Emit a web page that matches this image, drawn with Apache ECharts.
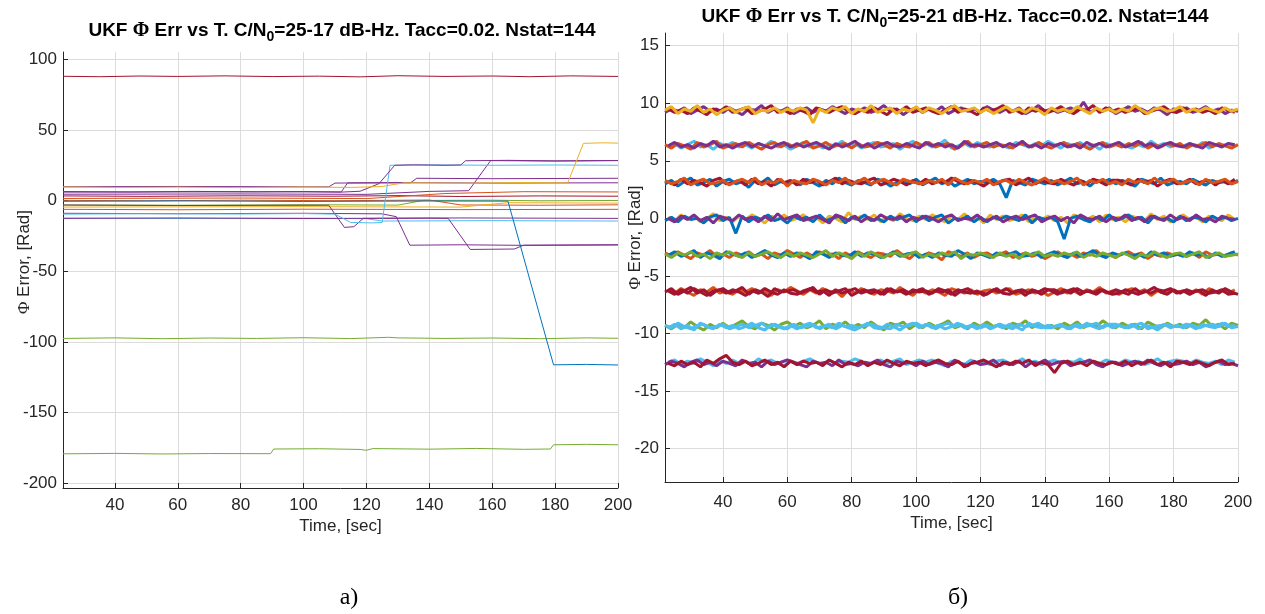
<!DOCTYPE html>
<html><head><meta charset="utf-8">
<script src="https://cdn.jsdelivr.net/npm/echarts@6/dist/echarts.min.js"></script>
<style>html,body{margin:0;padding:0;background:#fff}#c{width:1265px;height:614px}</style>
</head><body><div id="c"></div>
<script>
// ---------- tick labels ----------
const xTicks = [40,60,80,100,120,140,160,180,200];
const yTicksL = [-200,-150,-100,-50,0,50,100];
const yTicksR = [-20,-15,-10,-5,0,5,10,15];

// ---------- panel a) : [time, phase error] ----------
const La_87 = [[23.5,88.0],[35,87.7],[48,88.2],[60,87.9],[75,88.3],[90,87.8],[105,88.1],[118,87.6],[130,88.4],[145,87.9],[160,88.2],[172,87.7],[185,88.3],[200,87.9]];
const La_m97 = [[23.5,-97.6],[40,-97.2],[55,-97.8],[70,-97.3],[85,-97.6],[100,-97.1],[115,-97.7],[127,-96.8],[130,-97.2],[145,-97.6],[160,-97.3],[175,-97.8],[190,-97.2],[200,-97.5]];
const La_m179 = [[23.5,-179.3],[40,-179.0],[55,-179.4],[70,-179.1],[89.5,-179.2],[90.5,-175.9],[105,-175.7],[118,-176.2],[120,-176.8],[122,-175.6],[140,-176.0],[155,-175.5],[170,-176.1],[178.5,-175.9],[179.5,-172.9],[190,-172.6],[200,-172.9]];
const La_yel = [[23.5,9.6],[40,9.3],[60,9.5],[80,9.2],[100,9.6],[115,9.3],[125,10.0],[132,12.6],[150,12.3],[170,12.8],[184,12.5],[189,40.5],[195,40.9],[200,40.7]];
const La_pur1 = [[23.5,6.4],[45,6.1],[65,6.5],[85,6.2],[100,6.4],[112,6.0],[118,6.6],[124,12],[129,25.0],[135,25.3],[145,25.0],[150,25.2],[151.5,28.2],[165,28.5],[180,28.1],[200,28.4]];
const La_cya1 = [[23.5,-9.6],[50,-9.3],[80,-9.5],[100,-9.2],[110,-9.6],[115,-15.5],[122,-15.8],[125,-15.5],[127.5,25.0],[140,25.3],[160,25.0],[180,25.2],[200,25.0]];
const La_cya2 = [[23.5,-12.4],[60,-12.7],[100,-12.4],[120,-12.8],[125,-14.5],[160,-14.2],[200,-14.5]];
const La_red = [[23.5,3.3],[50,3.0],[80,3.4],[110,3.1],[130,3.5],[150,2.9],[175,3.3],[200,3.1]];
const La_ora1 = [[23.5,0.2],[50,-0.2],[80,0.3],[110,-0.1],[140,0.4],[150,-3.1],[175,-3.3],[200,-3.0]];
const La_grn = [[23.5,-3.0],[60,-3.3],[100,-2.9],[130,-3.2],[138,0.1],[160,0.3],[175,-0.2],[200,0.1]];
const La_ora2 = [[23.5,-6.2],[60,-6.5],[100,-6.1],[150,-6.4],[200,-6.2]];
const La_pur2 = [[23.5,-12.6],[60,-12.3],[100,-12.7],[140,-12.4],[146,-12.6],[153,-34.6],[167,-34.3],[170,-31.6],[200,-31.3]];
const La_blu1 = [[23.5,-0.5],[60,-0.2],[100,-0.6],[140,-0.3],[165,-0.4],[179.5,-116.3],[190,-116.0],[200,-116.4]];
const La_pur3 = [[23.5,9.8],[60,10.0],[108,9.7],[110,12.4],[130,12.7],[160,12.4],[200,12.6]];
const La_pur4 = [[23.5,6.0],[90,6.2],[112,6.1],[114,12.5],[134,12.6],[136,15.8],[160,15.5],[200,15.8]];
const La_pur5 = [[23.5,-3.2],[60,-3.5],[108,-3.3],[113,-19.0],[116,-18.5],[119,-12.6],[150,-12.3],[200,-12.6]];
const La_pur6 = [[23.5,-9.0],[60,-9.3],[100,-9.0],[125,-9.4],[129.5,-11.4],[133.8,-31.6],[150,-31.3],[170,-31.7],[200,-31.4]];
const La_pur7 = [[23.5,4.5],[80,4.7],[120,4.4],[140,6.5],[152.5,7.0],[159.5,28.3],[180,28.0],[200,28.3]];
const La_ora3 = [[23.5,1.5],[80,1.8],[120,1.4],[145,5.0],[170,6.3],[200,6.1]];
const La_yel2 = [[23.5,-4.6],[100,-4.3],[150,-4.6],[165,-1.5],[200,-1.8]];

// ---------- panel б) : time samples and phase error bands ----------
const R_t = [22,24,26,28,30,32,34,36,38,40,42,44,46,48,50,52,54,56,58,60,62,64,66,68,70,72,74,76,78,80,82,84,86,88,90,92,94,96,98,100,102,104,106,108,110,112,114,116,118,120,122,124,126,128,130,132,134,136,138,140,142,144,146,148,150,152,154,156,158,160,162,164,166,168,170,172,174,176,178,180,182,184,186,188,190,192,194,196,198,200];
const R_t2 = [23,25,27,29,31,33,35,37,39,41,43,45,47,49,51,53,55,57,59,61,63,65,67,69,71,73,75,77,79,81,83,85,87,89,91,93,95,97,99,101,103,105,107,109,111,113,115,117,119,121,123,125,127,129,131,133,135,137,139,141,143,145,147,149,151,153,155,157,159,161,163,165,167,169,171,173,175,177,179,181,183,185,187,189,191,193,195,197,199];

const B1a = [9.2,9.5,9.3,9.6,9.1,9.4,9.7,9.3,9.5,9.2,
9.6,9.3,9.0,9.5,9.4,9.8,9.2,9.5,9.3,9.6,
9.1,9.4,9.6,9.2,9.5,9.3,9.7,9.4,9.1,9.5,
9.3,9.6,9.2,9.4,9.8,9.3,9.5,9.0,9.4,9.6,
9.2,9.5,9.3,9.7,9.1,9.4,9.6,9.3,9.5,9.2,
9.7,9.4,9.2,9.5,9.3,9.6,9.1,9.4,9.8,9.3,
9.5,9.2,9.4,9.6,9.3,10.1,9.2,9.5,9.3,9.6,
9.1,9.4,9.7,9.3,9.5,9.2,9.6,9.4,9.0,9.5,
9.3,9.6,9.2,9.4,9.7,9.3,9.5,9.1,9.4,9.3];
const B1b = [9.5,9.2,9.4,9.1,9.6,9.3,9.0,9.5,9.3,9.7,
9.2,9.4,9.6,9.1,9.3,9.5,9.8,9.2,9.4,9.1,
9.5,9.3,9.0,9.6,9.4,9.2,9.5,9.7,9.3,9.1,
9.4,9.2,9.6,9.3,9.0,9.5,9.3,9.7,9.2,9.4,
9.6,9.3,9.1,9.4,9.7,9.2,9.5,9.3,9.0,9.6,
9.3,9.5,9.8,9.2,9.4,9.1,9.6,9.3,9.5,9.2,
9.4,9.7,9.3,9.1,9.5,9.4,9.8,9.2,9.6,9.3,
9.5,9.2,9.4,9.6,9.1,9.3,9.5,9.7,9.3,9.2,
9.6,9.3,9.5,9.2,9.4,9.1,9.6,9.4,9.2,9.5];
const B1c = [9.4,9.7,9.1,9.5,9.3,9.8,9.2,9.5,9.0,9.4,
9.6,9.2,9.5,9.7,9.1,9.4,9.3,9.6,9.2,9.5,
9.3,9.6,9.4,8.3,9.5,9.2,9.6,9.4,9.7,9.1,
9.5,9.3,9.8,9.2,9.4,9.6,9.1,9.5,9.3,9.7,
9.2,9.6,9.4,9.1,9.5,9.8,9.3,9.4,9.6,9.2,
9.5,9.1,9.4,9.7,9.3,9.5,9.2,9.6,9.4,9.0,
9.6,9.3,9.5,9.2,9.7,9.4,9.1,9.6,9.3,9.5,
9.2,9.5,9.3,9.8,9.4,9.1,9.5,9.6,9.3,9.4,
9.7,9.2,9.5,9.3,9.6,9.4,9.2,9.6,9.3,9.5];

const B2a = [6.2,6.5,6.1,6.4,6.7,6.2,6.4,6.0,6.5,6.3,
6.6,6.2,6.4,6.1,6.5,6.3,6.7,6.2,6.4,6.0,
6.3,6.6,6.2,6.5,6.1,6.4,6.3,6.7,6.2,6.5,
6.1,6.4,6.6,6.2,6.3,6.5,6.0,6.4,6.7,6.2,
6.5,6.2,6.4,6.8,6.1,6.3,6.5,6.2,6.6,6.3,
6.2,6.5,6.3,6.1,6.6,6.4,6.2,6.5,6.3,6.7,
6.4,6.1,6.5,6.3,6.6,6.2,6.4,6.0,6.5,6.3,
6.6,6.3,6.1,6.4,6.2,6.7,6.3,6.5,6.2,6.4,
6.3,6.5,6.2,6.6,6.1,6.4,6.3,6.5,6.2,6.4];
const B2b = [6.4,6.1,6.5,6.3,6.0,6.6,6.2,6.4,6.7,6.1,
6.3,6.5,6.2,6.6,6.3,6.0,6.4,6.6,6.2,6.5,
6.2,6.4,6.7,6.1,6.3,6.6,6.2,6.4,6.5,6.1,
6.5,6.2,6.3,6.6,6.4,6.1,6.5,6.3,6.2,6.6,
6.3,6.6,6.2,6.4,6.5,6.0,6.3,6.7,6.2,6.4,
6.6,6.2,6.4,6.3,6.1,6.5,6.4,6.2,6.6,6.3,
6.1,6.4,6.6,6.2,6.5,6.3,6.0,6.4,6.6,6.2,
6.4,6.2,6.5,6.3,6.6,6.1,6.4,6.2,6.5,6.3,
6.5,6.1,6.4,6.3,6.6,6.2,6.5,6.3,6.1,6.4];
const B2c = [6.3,6.6,6.2,6.4,6.1,6.5,6.3,6.7,6.2,6.4,
6.1,6.4,6.6,6.2,6.5,6.3,6.1,6.4,6.6,6.2,
6.5,6.2,6.4,6.6,6.3,6.0,6.5,6.2,6.4,6.7,
6.2,6.5,6.1,6.4,6.6,6.3,6.2,6.5,6.3,6.1,
6.6,6.3,6.5,6.2,6.4,6.1,6.7,6.3,6.4,6.2,
6.4,6.6,6.2,6.5,6.3,6.7,6.2,6.4,6.1,6.5,
6.3,6.5,6.2,6.4,6.1,6.6,6.3,6.5,6.2,6.4,
6.6,6.2,6.4,6.7,6.3,6.5,6.1,6.4,6.6,6.3,
6.2,6.5,6.3,6.1,6.6,6.4,6.2,6.5,6.4,6.3];

const B3a = [3.0,3.3,2.8,3.2,3.5,2.9,3.1,3.4,2.8,3.2,
3.4,3.0,3.2,2.7,3.3,3.1,3.5,2.9,3.2,3.0,
3.2,2.9,3.4,3.1,2.8,3.3,3.0,3.5,3.1,2.9,
3.3,3.1,2.9,3.4,3.2,2.8,3.1,3.3,3.0,3.4,
2.9,3.2,3.5,3.0,3.3,2.8,3.1,3.4,3.0,3.2,
3.1,3.4,3.0,1.8,3.3,3.1,2.9,3.4,3.2,3.0,
3.3,2.9,3.2,3.5,3.0,3.2,2.8,3.3,3.1,3.4,
3.0,3.3,3.1,2.8,3.4,3.2,3.0,3.5,2.9,3.1,
3.2,3.0,3.4,3.1,2.9,3.3,3.1,3.2,3.0,3.3];
const B3b = [3.2,2.9,3.4,3.0,3.3,3.1,2.8,3.3,3.5,3.0,
3.1,3.3,2.9,3.4,3.0,3.2,2.8,3.4,3.1,3.3,
2.9,3.4,3.1,3.3,2.9,3.2,3.5,3.0,3.3,3.1,
3.0,3.3,3.5,2.9,3.1,3.4,3.2,2.9,3.3,3.0,
3.4,3.0,3.2,3.1,3.5,3.2,3.0,3.3,3.1,2.8,
3.2,3.0,3.3,3.4,2.9,3.2,3.5,3.0,3.3,3.1,
3.0,3.4,3.1,2.9,3.3,3.0,3.4,3.2,2.9,3.3,
3.3,3.1,2.9,3.4,3.1,3.3,2.8,3.2,3.4,3.0,
3.1,3.4,3.0,3.2,3.3,2.9,3.3,3.0,3.4,3.1];
const B3c = [3.3,3.0,3.2,3.5,2.9,3.2,3.4,3.0,3.1,3.3,
2.9,3.2,3.4,3.1,3.5,2.9,3.2,3.1,3.4,2.8,
3.3,3.1,3.0,3.4,3.2,2.9,3.3,3.1,3.5,3.0,
3.2,3.5,3.0,3.2,3.4,3.1,2.9,3.4,3.2,3.1,
3.0,3.3,3.1,3.4,2.9,3.5,3.2,3.0,3.3,3.1,
3.4,2.9,3.2,3.3,3.0,3.4,3.1,2.9,3.2,3.5,
3.1,3.3,3.0,3.2,3.5,2.9,3.3,3.1,3.4,3.0,
3.2,2.9,3.4,3.1,3.3,3.0,3.5,3.1,3.2,3.4,
3.0,3.2,3.3,2.9,3.4,3.1,3.2,3.4,3.0,3.2];

const B4a = [0.1,-0.2,0.3,-0.1,0.2,-0.3,0.0,0.4,-0.2,0.1,
-0.3,0.2,-0.1,0.3,0.0,-0.4,0.2,-0.1,0.3,-0.2,
0.0,0.3,-0.2,0.1,-0.4,0.2,0.0,-0.3,0.5,-0.1,
0.2,-0.1,0.3,-0.3,0.1,-0.2,0.4,0.0,-0.2,0.2,
-0.1,0.3,0.0,-0.3,0.2,-0.1,0.4,-0.2,0.1,-0.4,
0.3,-0.1,0.2,-0.2,0.0,0.3,-0.3,0.1,-0.1,0.2,
-0.2,0.1,-0.4,0.3,0.0,-0.1,0.2,-0.3,0.3,-0.1,
0.1,-0.3,0.2,0.0,-0.2,0.4,-0.1,0.2,-0.3,0.0,
0.3,-0.1,0.1,-0.3,0.2,0.0,-0.2,0.3,-0.1,0.1];
const B4b = [-0.2,0.1,-0.3,0.2,-0.1,0.0,-0.4,0.1,0.3,-0.2,
0.1,-1.3,0.2,-0.3,0.1,-0.1,0.3,-0.2,0.0,-0.4,
0.2,-0.1,0.1,-0.3,0.3,-0.2,0.0,0.2,-0.4,0.1,
-0.1,0.3,-0.2,0.0,-0.3,0.2,-0.1,0.1,0.3,-0.3,
0.2,-0.2,0.1,0.3,-0.4,0.0,-0.1,0.2,-0.3,0.1,
-0.3,0.1,-0.1,0.2,0.0,-0.2,0.3,-0.4,0.1,-0.1,
0.1,-0.3,-1.8,0.0,0.2,-0.1,-0.3,0.1,-0.2,0.3,
-0.2,0.0,0.3,-0.1,0.1,-0.4,0.2,-0.1,0.0,-0.3,
0.2,-0.2,0.1,0.0,-0.3,0.2,-0.1,0.1,-0.2,0.0];
const B4c = [0.0,-0.3,0.2,-0.1,0.3,-0.2,0.1,-0.4,0.2,0.0,
-0.2,0.3,-0.1,0.1,-0.3,0.2,-0.2,0.4,-0.1,0.1,
0.3,-0.2,0.0,0.2,-0.1,-0.4,0.3,0.1,-0.2,0.2,
-0.3,0.1,-0.2,0.3,0.0,-0.1,0.2,-0.3,0.1,-0.1,
0.2,0.0,-0.3,0.1,0.3,-0.2,0.0,-0.1,0.3,-0.2,
-0.1,0.2,-0.3,0.0,0.2,-0.1,0.1,0.3,-0.3,0.0,
0.2,-0.2,0.1,-0.4,0.3,0.0,-0.1,0.2,-0.3,0.1,
-0.1,0.3,-0.2,0.1,-0.3,0.2,0.0,-0.2,0.3,-0.1,
0.1,-0.2,0.3,-0.1,0.0,-0.3,0.2,0.0,-0.1,0.2];

const B5a = [-3.0,-3.3,-2.9,-3.2,-3.5,-3.0,-3.2,-2.8,-3.3,-3.1,
-3.4,-3.0,-3.2,-2.9,-3.3,-3.1,-3.5,-3.0,-3.2,-2.8,
-3.1,-3.4,-3.0,-3.3,-2.9,-3.2,-3.1,-3.5,-3.0,-3.3,
-2.9,-3.2,-3.4,-3.0,-3.1,-3.3,-2.8,-3.2,-3.5,-3.0,
-3.3,-3.0,-3.2,-3.6,-2.9,-3.1,-3.3,-3.0,-3.4,-3.1,
-3.0,-3.3,-3.1,-2.9,-3.4,-3.2,-3.0,-3.3,-3.1,-3.5,
-3.2,-2.9,-3.3,-3.1,-3.4,-3.0,-3.2,-2.8,-3.3,-3.1,
-3.4,-3.1,-2.9,-3.2,-3.0,-3.5,-3.1,-3.3,-3.0,-3.2,
-3.1,-3.3,-3.0,-3.4,-2.9,-3.2,-3.1,-3.3,-3.0,-3.2];
const B5b = [-3.2,-2.9,-3.3,-3.1,-2.8,-3.4,-3.0,-3.2,-3.5,-2.9,
-3.1,-3.3,-3.0,-3.4,-3.1,-2.8,-3.2,-3.4,-3.0,-3.3,
-3.0,-3.2,-3.5,-2.9,-3.1,-3.4,-3.0,-3.2,-3.3,-2.9,
-3.3,-3.0,-3.1,-3.4,-3.2,-2.9,-3.3,-3.1,-3.0,-3.4,
-3.1,-3.4,-3.0,-3.2,-3.3,-2.8,-3.1,-3.5,-3.0,-3.2,
-3.4,-3.0,-3.2,-3.1,-2.9,-3.3,-3.2,-3.0,-3.4,-3.1,
-2.9,-3.2,-3.4,-3.0,-3.3,-3.1,-2.8,-3.2,-3.4,-3.0,
-3.2,-3.0,-3.3,-3.1,-3.4,-2.9,-3.2,-3.0,-3.3,-3.1,
-3.3,-2.9,-3.2,-3.1,-3.4,-3.0,-3.3,-3.1,-2.9,-3.2];
const B5c = [-3.1,-3.4,-3.0,-3.2,-2.9,-3.3,-3.1,-3.5,-3.0,-3.2,
-2.9,-3.2,-3.4,-3.0,-3.3,-3.1,-2.9,-3.2,-3.4,-3.0,
-3.3,-3.0,-3.2,-3.4,-3.1,-2.8,-3.3,-3.0,-3.2,-3.5,
-3.0,-3.3,-2.9,-3.2,-3.4,-3.1,-3.0,-3.3,-3.1,-2.9,
-3.4,-3.1,-3.3,-3.0,-3.2,-2.9,-3.5,-3.1,-3.2,-3.0,
-3.2,-3.4,-3.0,-3.3,-3.1,-3.5,-3.0,-3.2,-2.9,-3.3,
-3.1,-3.3,-3.0,-3.2,-2.9,-3.4,-3.1,-3.3,-3.0,-3.2,
-3.4,-3.0,-3.2,-3.5,-3.1,-3.3,-2.9,-3.2,-3.4,-3.1,
-3.0,-3.3,-3.1,-2.9,-3.4,-3.2,-3.0,-3.3,-3.2,-3.1];

const B6a = [-6.2,-6.5,-6.1,-6.4,-6.7,-6.2,-6.4,-6.0,-6.5,-6.3,
-6.6,-6.2,-6.4,-6.1,-6.5,-6.3,-6.7,-6.2,-6.4,-6.0,
-6.3,-6.6,-6.2,-6.5,-6.1,-6.4,-6.3,-6.8,-6.2,-6.5,
-6.1,-6.4,-6.6,-6.2,-6.3,-6.5,-6.0,-6.4,-6.7,-6.2,
-6.5,-6.2,-6.4,-6.7,-6.1,-6.3,-6.5,-6.2,-6.6,-6.3,
-6.2,-6.5,-6.3,-6.1,-6.6,-6.4,-6.2,-6.5,-6.3,-6.7,
-6.4,-6.1,-6.5,-6.3,-6.6,-6.2,-6.4,-6.0,-6.5,-6.3,
-6.6,-6.3,-6.1,-6.4,-6.2,-6.7,-6.3,-6.5,-6.2,-6.4,
-6.3,-6.5,-6.2,-6.6,-6.1,-6.4,-6.3,-6.5,-6.2,-6.6];
const B6b = [-6.4,-6.1,-6.6,-6.3,-6.0,-6.5,-6.2,-6.7,-6.3,-6.1,
-6.5,-6.3,-6.0,-6.6,-6.2,-6.4,-6.8,-6.1,-6.4,-6.3,
-6.2,-6.5,-6.3,-6.0,-6.6,-6.2,-6.5,-6.3,-6.1,-6.7,
-6.4,-6.2,-6.5,-6.3,-6.6,-6.1,-6.4,-6.2,-6.5,-6.3,
-6.1,-6.6,-6.3,-6.4,-6.2,-6.7,-6.3,-6.1,-6.5,-6.4,
-6.6,-6.2,-6.4,-6.1,-6.5,-6.3,-6.7,-6.2,-6.4,-6.1,
-6.3,-6.6,-6.2,-6.5,-6.1,-6.4,-6.3,-6.6,-6.2,-6.5,
-6.2,-6.4,-6.6,-6.1,-6.5,-6.3,-6.0,-6.4,-6.6,-6.2,
-6.5,-6.2,-6.4,-6.3,-6.7,-6.2,-6.5,-6.1,-6.4,-6.6];
const B6c = [-6.3,-6.6,-6.2,-6.5,-6.1,-6.4,-6.7,-6.3,-6.2,-6.5,
-6.2,-6.4,-6.7,-6.3,-6.5,-6.1,-6.4,-6.6,-6.2,-6.5,
-6.6,-6.3,-6.1,-6.4,-6.3,-6.7,-6.2,-6.5,-6.3,-6.1,
-6.5,-6.3,-6.2,-6.6,-6.1,-6.4,-6.3,-6.6,-6.2,-6.4,
-6.3,-6.5,-6.1,-6.3,-6.6,-6.2,-6.4,-6.5,-6.3,-6.7,
-6.4,-6.1,-6.5,-6.6,-6.3,-6.2,-6.5,-6.3,-6.6,-6.2,
-6.2,-6.5,-6.3,-6.1,-6.6,-6.3,-6.5,-6.2,-6.4,-6.6,
-6.5,-6.2,-6.4,-6.6,-6.3,-6.5,-6.2,-6.3,-6.1,-6.5,
-6.3,-6.6,-6.3,-6.2,-6.5,-6.4,-6.2,-6.6,-6.5,-6.7];

const B7a = [-9.3,-9.6,-9.2,-9.5,-9.0,-9.4,-9.7,-9.2,-9.5,-9.1,
-9.5,-9.2,-8.9,-9.4,-9.6,-9.1,-9.3,-9.7,-9.2,-9.0,
-9.4,-9.1,-9.5,-9.3,-8.9,-9.6,-9.2,-9.4,-9.0,-9.5,
-9.2,-9.5,-9.0,-9.4,-9.7,-9.1,-9.3,-9.0,-9.6,-9.2,
-9.5,-9.1,-9.4,-9.2,-8.9,-9.5,-9.3,-9.6,-9.1,-9.4,
-9.0,-9.4,-9.2,-9.6,-9.1,-9.3,-8.9,-9.5,-9.2,-9.4,
-9.3,-9.6,-9.1,-9.4,-9.0,-9.5,-9.2,-9.4,-8.9,-9.3,
-9.5,-9.1,-9.4,-9.2,-9.6,-9.0,-9.3,-9.5,-9.1,-9.4,
-9.2,-9.5,-9.1,-9.3,-8.8,-9.4,-9.2,-9.6,-9.1,-9.3];
const B7b = [-9.5,-9.2,-9.6,-9.3,-9.7,-9.1,-9.4,-9.6,-9.2,-9.5,
-9.3,-9.6,-9.4,-9.1,-9.5,-9.7,-9.2,-9.4,-9.6,-9.3,
-9.6,-9.3,-9.1,-9.5,-9.4,-9.2,-9.6,-9.3,-9.5,-9.7,
-9.4,-9.1,-9.5,-9.6,-9.2,-9.4,-9.7,-9.3,-9.1,-9.5,
-9.2,-9.5,-9.3,-9.6,-9.4,-9.1,-9.5,-9.3,-9.6,-9.2,
-9.6,-9.3,-9.5,-9.2,-9.4,-9.7,-9.1,-9.4,-9.5,-9.3,
-9.4,-9.2,-9.6,-9.3,-9.5,-9.1,-9.4,-9.6,-9.2,-9.5,
-9.3,-9.5,-9.2,-9.6,-9.3,-9.4,-9.7,-9.2,-9.5,-9.3,
-9.5,-9.3,-9.6,-9.2,-9.4,-9.5,-9.1,-9.4,-9.3,-9.6];
const B7c = [-9.3,-9.5,-9.1,-9.4,-9.6,-9.3,-9.2,-9.5,-9.4,-9.2,
-9.6,-9.4,-9.2,-9.5,-9.3,-9.1,-9.5,-9.2,-9.4,-9.6,
-9.2,-9.5,-9.4,-9.2,-9.6,-9.3,-9.5,-9.1,-9.4,-9.3,
-9.5,-9.3,-9.2,-9.4,-9.5,-9.6,-9.2,-9.4,-9.3,-9.1,
-9.4,-9.2,-9.6,-9.3,-9.1,-9.4,-9.2,-9.5,-9.3,-9.5,
-9.3,-9.5,-9.2,-9.4,-9.6,-9.2,-9.4,-9.3,-9.1,-9.5,
-9.5,-9.3,-9.4,-9.6,-9.2,-9.4,-9.3,-9.1,-9.5,-9.2,
-9.2,-9.4,-9.5,-9.3,-9.1,-9.6,-9.4,-9.3,-9.2,-9.4,
-9.4,-9.2,-9.3,-9.5,-9.3,-9.2,-9.4,-9.1,-9.5,-9.4];

const B8a = [-12.5,-12.3,-12.7,-12.4,-12.6,-12.2,-12.5,-12.8,-12.4,-12.6,
-12.3,-12.6,-12.4,-12.7,-12.2,-12.5,-12.3,-12.6,-12.8,-12.4,
-12.6,-12.4,-12.2,-12.5,-12.7,-12.3,-12.6,-12.4,-12.5,-12.2,
-12.4,-12.7,-12.5,-12.3,-12.6,-12.4,-12.2,-12.7,-12.5,-12.3,
-12.5,-12.3,-12.6,-12.8,-12.4,-12.5,-12.7,-12.3,-12.6,-12.4,
-12.7,-12.4,-12.3,-12.6,-12.5,-12.2,-12.6,-12.4,-12.7,-12.5,
-12.3,-12.6,-12.4,-12.5,-12.2,-12.7,-12.4,-12.6,-12.3,-12.5,
-12.6,-12.3,-12.5,-12.4,-12.7,-12.5,-12.2,-12.6,-12.4,-12.3,
-12.4,-12.6,-12.3,-12.5,-12.6,-12.4,-12.7,-12.3,-12.5,-12.4];
const B8b = [-12.7,-12.4,-12.6,-12.9,-12.5,-12.3,-12.7,-12.5,-12.8,-12.4,
-12.6,-12.8,-12.3,-12.6,-12.5,-12.9,-12.4,-12.7,-12.5,-12.3,
-12.5,-12.7,-12.9,-12.4,-12.6,-12.5,-12.8,-12.3,-12.7,-12.6,
-12.8,-12.5,-12.6,-12.3,-12.7,-12.9,-12.4,-12.6,-12.5,-12.8,
-12.4,-12.7,-12.5,-12.6,-12.9,-12.3,-12.6,-12.8,-12.4,-12.7,
-12.6,-12.3,-12.8,-12.5,-12.7,-12.4,-12.9,-12.5,-12.6,-12.3,
-12.7,-12.5,-12.4,-12.8,-12.6,-12.5,-12.3,-12.7,-12.9,-12.5,
-12.5,-12.8,-12.6,-12.4,-12.7,-12.3,-12.6,-12.8,-12.5,-12.7,
-12.6,-12.4,-12.7,-12.5,-12.9,-12.6,-12.4,-12.7,-12.6,-12.8];
const B8c = [-12.6,-12.8,-12.4,-12.7,-12.5,-12.9,-12.3,-12.6,-12.2,-11.9,
-12.5,-12.7,-12.4,-12.8,-12.6,-12.3,-12.7,-12.5,-12.9,-12.4,
-12.7,-12.4,-12.6,-12.5,-12.8,-12.3,-12.6,-12.9,-12.5,-12.7,
-12.4,-12.8,-12.5,-12.7,-12.3,-12.6,-12.8,-12.4,-12.6,-12.5,
-12.8,-12.5,-12.3,-12.6,-12.7,-12.4,-12.9,-12.6,-12.5,-12.3,
-12.6,-12.9,-12.5,-12.7,-12.4,-12.6,-12.3,-12.8,-12.5,-12.7,
-13.4,-12.6,-12.4,-12.7,-12.5,-12.8,-12.4,-12.6,-12.7,-12.5,
-12.7,-12.4,-12.8,-12.5,-12.6,-12.3,-12.7,-12.5,-12.9,-12.4,
-12.5,-12.7,-12.4,-12.6,-12.8,-12.5,-12.3,-12.7,-12.6,-12.5];

// ---------- colours (MATLAB default order) ----------
const C = {blue:'#0072BD', ora:'#D95319', yel:'#EDB120', pur:'#7E2F8E', grn:'#77AC30', cya:'#4DBEEE', red:'#A2142F'};

const leftSeries = [
  [La_87, C.red], [La_m97, C.grn], [La_m179, C.grn],
  [La_ora2, C.ora], [La_grn, C.grn], [La_red, C.red], [La_ora1, C.ora], [La_ora3, C.ora], [La_yel2, C.yel],
  [La_cya2, C.cya], [La_pur2, C.pur], [La_pur3, C.pur], [La_pur4, C.pur], [La_pur5, C.pur], [La_pur6, C.pur],
  [La_pur7, C.pur], [La_blu1, C.blue], [La_cya1, C.cya], [La_pur1, C.pur], [La_yel, C.yel]
];
// [values, time grid, colour]
const rightSeries = [
  [B1a, R_t, C.pur], [B1b, R_t2, C.red], [B1c, R_t, C.yel],
  [B2a, R_t2, C.cya], [B2b, R_t, C.ora], [B2c, R_t2, C.pur],
  [B3a, R_t, C.blue], [B3b, R_t2, C.red], [B3c, R_t, C.ora],
  [B4a, R_t2, C.yel], [B4b, R_t, C.blue], [B4c, R_t2, C.pur],
  [B5a, R_t, C.ora], [B5b, R_t2, C.blue], [B5c, R_t, C.grn],
  [B6a, R_t2, C.ora], [B6b, R_t, C.red], [B6c, R_t2, C.red],
  [B7a, R_t, C.grn], [B7b, R_t2, C.cya], [B7c, R_t, C.cya],
  [B8a, R_t2, C.cya], [B8b, R_t, C.pur], [B8c, R_t2, C.red]
];

const FONT = 'Liberation Sans';
const INK = '#262626';
const FS = 17;
function xAxisCfg(idx, min, gap, margin){
  return {type:'value', gridIndex:idx, min:min, max:200,
    name:'Time, [sec]', nameLocation:'middle', nameGap:gap, nameMoveOverlap:false,
    nameTextStyle:{fontFamily:FONT, fontSize:FS, color:INK},
    axisLine:{show:true, onZero:false, lineStyle:{color:INK, width:1}},
    axisTick:{show:true, inside:true, length:5, lineStyle:{color:INK}, customValues:xTicks},
    axisLabel:{fontFamily:FONT, fontSize:FS, color:INK, margin:margin, customValues:xTicks},
    splitLine:{show:true, lineStyle:{color:'#dcdcdc', width:1}}};
}
function yAxisCfg(idx, min, max, ticks, gap, shift){
  return {type:'value', gridIndex:idx, min:min, max:max,
    name:'{phi|Φ} Error, [Rad]', nameLocation:'middle', nameGap:gap, nameRotate:90, nameMoveOverlap:false,
    nameTextStyle:{fontFamily:FONT, fontSize:FS, color:INK, padding:[0,0,0,shift], rich:{phi:{fontFamily:'Liberation Serif', fontSize:FS, color:INK}}},
    axisLine:{show:true, onZero:false, lineStyle:{color:INK, width:1}},
    axisTick:{show:true, inside:true, length:5, lineStyle:{color:INK}, customValues:ticks},
    axisLabel:{fontFamily:FONT, fontSize:FS, color:INK, margin:6, customValues:ticks},
    splitLine:{show:true, lineStyle:{color:'#dcdcdc', width:1}}};
}
const titleRich = {
  b:{fontFamily:FONT, fontWeight:'bold', fontSize:19, color:'#000'},
  phi:{fontFamily:'Liberation Serif', fontSize:20, color:'#000'},
  sub:{fontFamily:FONT, fontWeight:'bold', fontSize:14, color:'#000', padding:[12,0,0,0]}
};

const series = [];
leftSeries.forEach(([d,c])=>series.push({type:'line', xAxisIndex:0, yAxisIndex:0, data:d, showSymbol:false, lineStyle:{width:1, color:c}, itemStyle:{color:c}, silent:true}));
rightSeries.forEach(([v,tt,c])=>series.push({type:'line', xAxisIndex:1, yAxisIndex:1, data:tt.map((t,i)=>[t, v[i]]), showSymbol:false, lineStyle:{width:3, color:c}, itemStyle:{color:c}, silent:true}));

const chart = echarts.init(document.getElementById('c'), null, {renderer:'canvas'});
chart.setOption({
  animation:false,
  backgroundColor:'#fff',
  title:[
    {text:'{b|UKF }{phi|Φ}{b| Err vs T. C/N}{sub|0}{b|=25-17 dB-Hz. Tacc=0.02. Nstat=144}', left:337, top:13, textAlign:'center', textStyle:{rich:titleRich}},
    {text:'{b|UKF }{phi|Φ}{b| Err vs T. C/N}{sub|0}{b|=25-21 dB-Hz. Tacc=0.02. Nstat=144}', left:950, top:-1, textAlign:'center', textStyle:{rich:titleRich}},
    {text:'а)', left:344, top:581, textAlign:'center', textStyle:{fontFamily:'Liberation Serif', fontSize:24, fontWeight:'normal', color:'#000'}},
    {text:'б)', left:953, top:581, textAlign:'center', textStyle:{fontFamily:'Liberation Serif', fontSize:24, fontWeight:'normal', color:'#000'}}
  ],
  grid:[
    {left:63, right:647, top:52, bottom:126},
    {left:665, right:27, top:33, bottom:132}
  ],
  xAxis:[xAxisCfg(0,23.5,30,9), xAxisCfg(1,22,33,12)],
  yAxis:[yAxisCfg(0,-203.5,105.2,yTicksL,30,16), yAxisCfg(1,-22.9,16.1,yTicksR,21,40)],
  series:series
});
</script></body></html>
